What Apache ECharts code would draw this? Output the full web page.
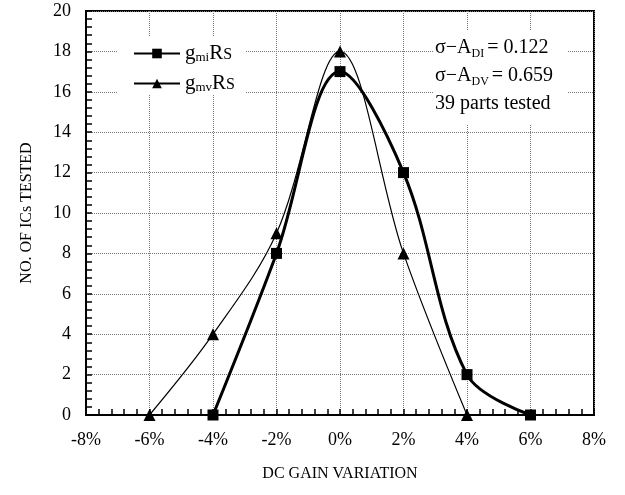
<!DOCTYPE html>
<html>
<head>
<meta charset="utf-8">
<script src="https://cdn.jsdelivr.net/npm/echarts@6/dist/echarts.min.js"></script>
<style>
  html, body { margin: 0; padding: 0; background: #fff; }
  #main { width: 625px; height: 495px; }
</style>
</head>
<body>
<div id="main"></div>
<script>
// DC gain variation histogram data
const gainMi = [-4, -2, 0, 2, 4, 6];
const countMi = [0, 8, 17, 12, 2, 0];
const gainMv = [-6, -4, -2, 0, 2, 4];
const countMv = [0, 4, 9, 18, 8, 0];
const seriesNames = ['gmiRs', 'gmvRs'];
const statLines = [['DI', '0.122'], ['DV', '0.659']];
const partsNote = '39 parts tested';

const serif = 'Liberation Serif';
const chart = echarts.init(document.getElementById('main'));

const pair = (xs, ys) => xs.map((x, i) => [x, ys[i]]);

let option = {
  backgroundColor: '#fff',
  animation: false,
  grid: {
    left: 86, right: 31, top: 11, bottom: 80,
    show: true, borderColor: '#000', borderWidth: 2
  },
  xAxis: {
    type: 'value', min: -8, max: 8, interval: 2,
    name: 'DC GAIN VARIATION', nameLocation: 'middle', nameGap: 51,
    nameTextStyle: { fontFamily: serif, fontSize: 16, color: '#000' },
    axisLine: { onZero: false, lineStyle: { color: '#000', width: 2 } },
    axisTick: { inside: true, length: 6, lineStyle: { color: '#000', width: 1.5 } },
    minorTick: { show: true, splitNumber: 5, length: 6, lineStyle: { color: '#000', width: 1.5 } },
    axisLabel: { fontFamily: serif, fontSize: 18, color: '#000', margin: 16, formatter: v => v + '%' },
    splitLine: { show: true, lineStyle: { color: '#777', type: 'dotted', width: 1 } }
  },
  yAxis: {
    type: 'value', min: 0, max: 20, interval: 2,
    name: 'NO. OF ICs TESTED', nameLocation: 'middle', nameGap: 51,
    nameTextStyle: { fontFamily: serif, fontSize: 16, color: '#000' },
    axisLine: { show: true, onZero: false, lineStyle: { color: '#000', width: 2 } },
    axisTick: { show: true, inside: true, length: 6, lineStyle: { color: '#000', width: 1.5 } },
    minorTick: { show: true, splitNumber: 5, length: 6, lineStyle: { color: '#000', width: 1.5 } },
    axisLabel: { fontFamily: serif, fontSize: 18, color: '#000', margin: 15 },
    splitLine: { show: true, lineStyle: { color: '#777', type: 'dotted', width: 1 } }
  },
  legend: {
    left: 128, top: 38, orient: 'vertical', itemWidth: 46, itemHeight: 12, itemGap: 9,
    z: 6,
    data: seriesNames,
    formatter: name => name === 'gmiRs' ? '{g|g}{s|mi}{g|R}{c|S}' : '{g|g}{s|mv}{g|R}{c|S}',
    textStyle: {
      rich: {
        g: { fontFamily: serif, fontSize: 21, color: '#000' },
        s: { fontFamily: serif, fontSize: 13, color: '#000', verticalAlign: 'bottom', padding: [0, 0, 0, 0] },
        c: { fontFamily: serif, fontSize: 16, color: '#000', verticalAlign: 'bottom', padding: [0, 0, 1, 0] }
      }
    }
  },
  graphic: [
    { type: 'rect', z: 5, shape: { x: 118, y: 37, width: 127, height: 58 }, style: { fill: '#fff' } },
    { type: 'rect', z: 5, shape: { x: 433, y: 30, width: 134, height: 95 }, style: { fill: '#fff' } },
    ...statLines.map((s, i) => ({
      type: 'text', z: 6, left: 435, top: 38 + i * 28,
      style: {
        text: '{a|σ−A}{b|' + s[0] + '}{a|= ' + s[1] + '}',
        rich: {
          a: { fontFamily: serif, fontSize: 20, fill: '#000' },
          b: { fontFamily: serif, fontSize: 12, fill: '#000', verticalAlign: 'bottom', padding: [0, 3, -2, 0] }
        }
      }
    })),
    { type: 'text', z: 6, left: 435, top: 94, style: { text: partsNote, fontFamily: serif, fontSize: 20, fill: '#000' } }
  ],
  series: [
    {
      name: seriesNames[0], type: 'line', smooth: 0.35,
      data: pair(gainMi, countMi),
      symbol: 'rect', symbolSize: 11,
      lineStyle: { color: '#000', width: 3 },
      itemStyle: { color: '#000' }, z: 3
    },
    {
      name: seriesNames[1], type: 'line', smooth: 0.35,
      data: pair(gainMv, countMv),
      symbol: 'triangle', symbolSize: 12,
      lineStyle: { color: '#000', width: 1.2 },
      itemStyle: { color: '#000' }, z: 4
    }
  ]
};

chart.setOption(option);
</script>
</body>
</html>
